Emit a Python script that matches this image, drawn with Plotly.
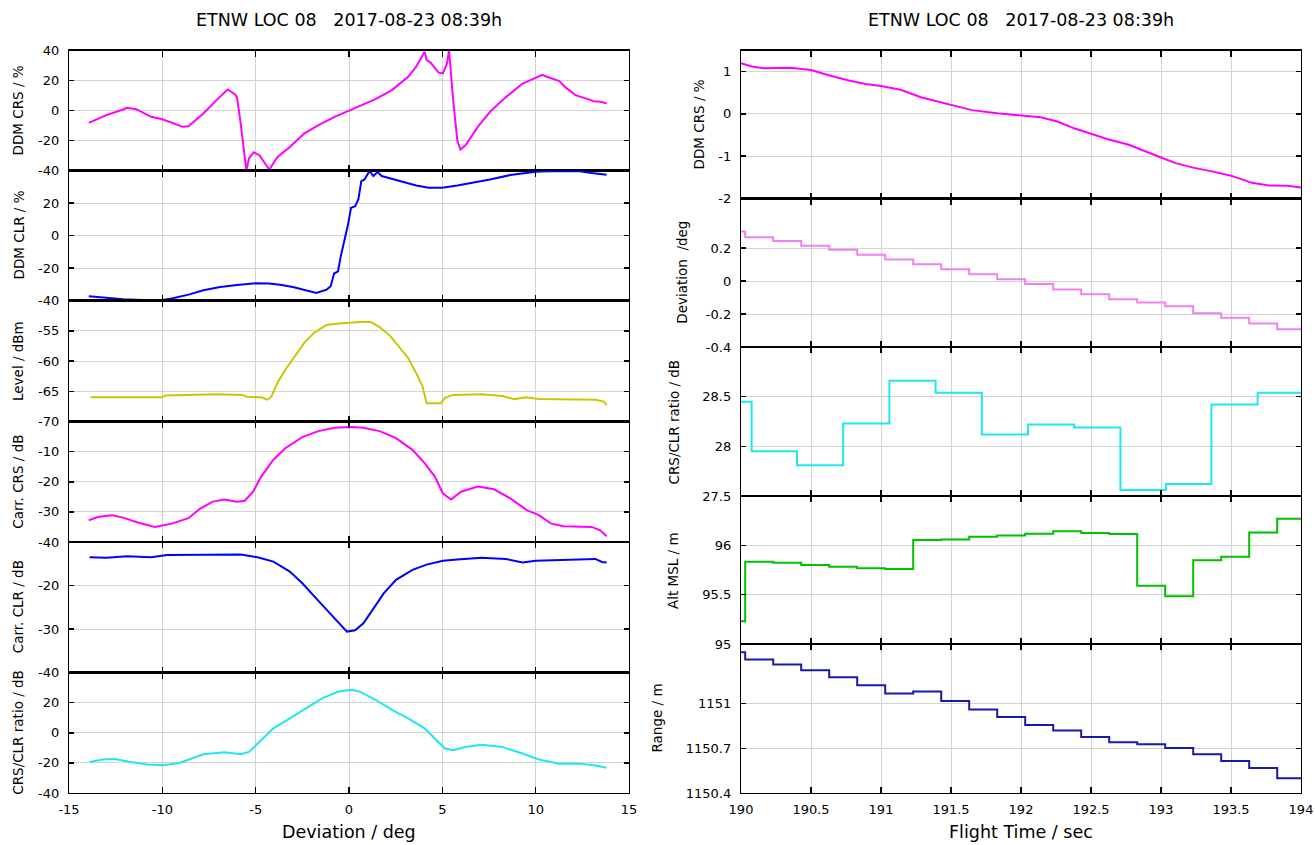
import plotly.graph_objects as go

W, H = 1315, 845

# ----------------------------- data -----------------------------
title_text = "ETNW LOC 08\u00a0\u00a0\u00a02017-08-23 08:39h"

# Left column: x = Deviation / deg
dev_ddm_crs = [-13.94, -13.0, -12.1, -11.9, -11.4, -10.6, -10.0, -9.5, -8.9, -8.6, -7.8, -7.1,
               -6.5, -6.1, -6.0, -5.8, -5.5, -5.36, -5.1, -4.8, -4.27, -3.83, -3.17, -2.4,
               -1.64, -0.77, 0.0, 0.55, 1.42, 2.3, 3.17, 3.6, 4.05, 4.16, 4.38, 4.8, 5.03,
               5.25, 5.36, 5.58, 5.8, 5.97, 6.24, 6.9, 7.55, 8.42, 9.3, 9.96, 10.35, 10.6,
               11.27, 11.6, 12.14, 12.8, 13.1, 13.5, 13.8]
ddm_crs = [-8.2, -3.1, 0.7, 1.8, 0.9, -4.2, -5.8, -8.2, -10.9, -10.5, -2.0, 6.9,
           14.0, 10.7, 8.7, -8.7, -40.0, -32.0, -27.8, -29.8, -39.4, -31.0, -24.3, -15.4,
           -9.8, -4.2, 0.0, 2.9, 7.6, 13.6, 22.5, 29.2, 39.2, 33.6, 31.8, 25.2, 24.7,
           31.4, 40.0, 6.9, -19.8, -26.0, -23.2, -10.9, -0.9, 9.1, 18.0, 21.6, 23.8, 22.5,
           19.6, 15.4, 10.2, 7.6, 6.2, 5.8, 4.7]

dev_ddm_clr = [-13.94, -13.0, -12.1, -11.05, -10.0, -9.5, -8.6, -7.8, -6.9, -6.0, -5.0, -4.27,
               -3.6, -2.95, -2.3, -1.75, -1.2, -0.98, -0.8, -0.59, -0.44, -0.22, -0.07, 0.11,
               0.33, 0.5, 0.66, 0.83, 1.1, 1.3, 1.53, 1.75, 2.3, 2.95, 3.6, 4.27, 5.0, 5.8,
               6.67, 7.55, 8.64, 10.0, 11.05, 12.36, 13.0, 13.8]
ddm_clr = [-37.4, -38.4, -39.3, -39.7, -39.7, -38.8, -36.4, -33.7, -31.7, -30.4, -29.4, -29.6,
           -30.4, -31.9, -33.7, -35.4, -33.3, -31.2, -23.4, -22.0, -12.7, -2.5, 5.8, 17.1,
           18.1, 22.2, 33.5, 34.5, 39.7, 36.6, 39.0, 36.6, 34.9, 33.1, 30.8, 29.4, 29.4, 30.8,
           32.5, 34.5, 37.2, 39.3, 39.7, 39.5, 38.4, 37.4]

dev_level = [-13.85, -12.0, -10.0, -9.85, -7.0, -5.7, -5.47, -4.7, -4.38, -4.16, -3.83, -3.4,
             -2.95, -2.4, -1.86, -1.2, -0.55, 0.11, 0.77, 1.2, 1.64, 2.19, 2.74, 3.17, 3.6,
             3.94, 4.16, 4.92, 5.14, 5.58, 7.1, 8.2, 8.86, 9.5, 10.17, 13.2, 13.65, 13.8]
level = [-66.0, -66.0, -66.0, -65.7, -65.5, -65.6, -65.9, -66.0, -66.4, -65.9, -63.6, -61.4,
         -59.5, -57.0, -55.3, -54.05, -53.8, -53.6, -53.5, -53.6, -54.4, -55.8, -57.8, -59.5, -62.0,
         -64.2, -67.0, -67.0, -66.1, -65.6, -65.5, -65.8, -66.3, -66.0, -66.3, -66.4, -66.7, -67.3]

dev_carr_crs = [-13.94, -13.46, -12.7, -12.1, -11.27, -10.4, -9.5, -8.6, -7.97, -7.3, -6.67, -6.0,
                -5.58, -5.14, -4.7, -4.05, -3.4, -2.5, -1.64, -0.77, 0.11, 0.77, 1.64, 2.52, 3.4,
                4.05, 4.6, 5.03, 5.47, 6.0, 6.9, 7.77, 8.64, 9.52, 10.17, 10.83, 11.5, 12.36,
                13.0, 13.46, 13.8]
carr_crs = [-32.8, -31.7, -31.1, -31.9, -33.6, -35.0, -33.9, -32.1, -28.9, -26.6, -25.9, -26.6,
            -26.3, -23.3, -18.3, -12.7, -8.8, -5.2, -3.2, -2.1, -1.8, -2.1, -3.2, -5.5, -9.4,
            -13.8, -18.3, -23.9, -25.9, -23.3, -21.6, -22.5, -25.5, -29.4, -31.1, -33.9, -34.8, -34.8,
            -35.0, -36.1, -38.1]

dev_carr_clr = [-13.9, -13.0, -11.9, -10.6, -9.74, -8.4, -7.0, -5.8, -4.9, -4.05, -3.17, -2.5,
                -1.86, -1.2, -0.55, -0.11, 0.33, 0.77, 1.2, 1.86, 2.52, 3.4, 4.16, 5.03, 5.8, 7.1,
                8.4, 9.3, 10.0, 11.9, 13.2, 13.55, 13.8]
carr_clr = [-13.5, -13.6, -13.3, -13.5, -13.0, -13.0, -12.9, -12.9, -13.5, -14.5, -16.8, -19.5,
            -22.5, -25.6, -28.7, -30.6, -30.3, -28.7, -26.0, -21.8, -18.7, -16.4, -15.2, -14.3, -14.0, -13.6,
            -13.9, -14.7, -14.3, -14.1, -13.9, -14.6, -14.7]

dev_ratio = [-13.9, -13.2, -12.55, -11.7, -10.8, -9.96, -9.1, -8.4, -7.8, -6.67, -5.8, -5.36, -4.7,
             -4.05, -3.17, -2.3, -1.42, -0.55, 0.11, 0.55, 1.42, 2.3, 3.17, 4.05, 4.7, 5.14, 5.58,
             6.24, 7.1, 8.2, 9.3, 10.17, 11.27, 12.36, 13.2, 13.8]
ratio = [-19.4, -17.8, -17.4, -19.4, -21.0, -21.6, -20.1, -17.2, -14.3, -12.9, -14.3, -12.7, -4.9,
         2.9, 9.6, 16.3, 23.0, 27.4, 28.5, 27.4, 21.9, 15.2, 9.6, 2.9, -4.9, -10.5, -11.6,
         -9.4, -8.0, -9.4, -13.8, -17.8, -20.5, -20.5, -21.8, -23.2]

# Right column: x = Flight Time / sec
t_ddm = [190.0, 190.076, 190.17, 190.35, 190.5, 190.62, 190.77, 190.89, 191.0, 191.14, 191.29,
         191.5, 191.65, 191.83, 192.0, 192.14, 192.26, 192.38, 192.5, 192.62, 192.77, 192.9,
         193.0, 193.11, 193.23, 193.38, 193.5, 193.65, 193.77, 193.9, 194.0]
ddm_crs_t = [1.2, 1.12, 1.08, 1.09, 1.04, 0.92, 0.79, 0.71, 0.66, 0.57, 0.39,
             0.21, 0.09, 0.016, -0.03, -0.08, -0.18, -0.34, -0.47, -0.6, -0.73, -0.89,
             -1.03, -1.17, -1.27, -1.37, -1.46, -1.63, -1.69, -1.70, -1.74]

t_step = [190.0, 190.03, 190.23, 190.43, 190.63, 190.83, 191.03, 191.23, 191.43, 191.63, 191.83,
          192.03, 192.23, 192.43, 192.63, 192.83, 193.03, 193.23, 193.43, 193.63, 193.83, 194.0]
deviation_t = [0.30, 0.265, 0.243, 0.214, 0.19, 0.159, 0.131, 0.102, 0.071, 0.041, 0.010,
               -0.018, -0.051, -0.080, -0.110, -0.131, -0.153, -0.196, -0.222, -0.257, -0.292, -0.292]
alt_msl = [95.23, 95.834, 95.824, 95.80, 95.784, 95.767, 95.76, 96.054, 96.06, 96.088, 96.10,
           96.118, 96.142, 96.125, 96.115, 95.59, 95.483, 95.848, 95.885, 96.13, 96.27, 96.27]
range_m = [1151.345, 1151.296, 1151.262, 1151.224, 1151.177, 1151.123, 1151.067, 1151.081,
           1151.018, 1150.96, 1150.91, 1150.857, 1150.819, 1150.776, 1150.74, 1150.727, 1150.702,
           1150.66, 1150.615, 1150.568, 1150.499, 1150.499]

t_ratio = [190.0, 190.076, 190.40, 190.73, 191.06, 191.39, 191.72, 192.05, 192.38, 192.71,
           193.035, 193.36, 193.69, 194.0]
ratio_t = [28.45, 27.95, 27.81, 28.23, 28.66, 28.54, 28.12, 28.22, 28.19, 27.56, 27.62, 28.42,
           28.54, 28.54]

# tick labels
dev_ticks = [-15, -10, -5, 0, 5, 10, 15]
dev_ticktext = ["-15", "-10", "-5", "0", "5", "10", "15"]
time_ticks = [190, 190.5, 191, 191.5, 192, 192.5, 193, 193.5, 194]
time_ticktext = ["190", "190.5", "191", "191.5", "192", "192.5", "193", "193.5", "194"]

# ----------------------------- style -----------------------------
FONT = "DejaVu Sans"
GRID = "#d4d4d4"
MAGENTA = "#ff00ff"
BLUE = "#0000ff"
OLIVE = "#c8c800"
CYAN = "#1ee8ee"
VIOLET = "#f080f0"
GREEN = "#00c000"
NAVY = "#1a1aa6"
TICK_SIZE = 13
YTITLE_SIZE = 13.5


def px_x(p):
    return p / W


def px_y(p):
    return 1 - p / H


LX = [69, 629]
RX = [741, 1301]

# (series x, series y, color, shape, y-range, y-ticks, y-ticktext, top px, bottom px, y-title, title x px)
left_panels = [
    (dev_ddm_crs, ddm_crs, MAGENTA, "linear", [-40, 40], [-40, -20, 0, 20, 40],
     ["-40", "-20", "0", "20", "40"], 50.5, 170.5, "DDM CRS / %"),
    (dev_ddm_clr, ddm_clr, BLUE, "linear", [-40, 40], [-40, -20, 0, 20],
     ["-40", "-20", "0", "20"], 170.5, 300.5, "DDM CLR / %"),
    (dev_level, level, OLIVE, "linear", [-70, -50], [-70, -65, -60, -55],
     ["-70", "-65", "-60", "-55"], 300.5, 421.5, "Level / dBm"),
    (dev_carr_crs, carr_crs, MAGENTA, "linear", [-40, 0], [-40, -30, -20, -10],
     ["-40", "-30", "-20", "-10"], 421.5, 542, "Carr. CRS / dB"),
    (dev_carr_clr, carr_clr, BLUE, "linear", [-40, -10], [-40, -30, -20],
     ["-40", "-30", "-20"], 542, 672.5, "Carr. CLR / dB"),
    (dev_ratio, ratio, CYAN, "linear", [-40, 40], [-40, -20, 0, 20],
     ["-40", "-20", "0", "20"], 672.5, 793, "CRS/CLR ratio / dB"),
]

right_panels = [
    (t_ddm, ddm_crs_t, MAGENTA, "linear", [-2, 1.5], [-2, -1, 0, 1],
     ["-2", "-1", "0", "1"], 50.5, 198.5, "DDM CRS / %", 698),
    (t_step, deviation_t, VIOLET, "hv", [-0.4, 0.5], [-0.4, -0.2, 0, 0.2],
     ["-0.4", "-0.2", "0", "0.2"], 198.5, 347, "Deviation\u00a0\u00a0/deg", 682),
    (t_ratio, ratio_t, CYAN, "hv", [27.5, 29.0], [27.5, 28, 28.5],
     ["27.5", "28", "28.5"], 347, 496, "CRS/CLR ratio / dB", 673),
    (t_step, alt_msl, GREEN, "hv", [95, 96.5], [95, 95.5, 96],
     ["95", "95.5", "96"], 496, 644, "Alt MSL / m", 673),
    (t_step, range_m, NAVY, "hv", [1150.4, 1151.4], [1150.4, 1150.7, 1151],
     ["1150.4", "1150.7", "1151"], 644, 793, "Range / m", 656),
]

fig = go.Figure()
layout = dict(
    width=W, height=H,
    margin=dict(l=0, r=0, t=0, b=0, pad=0, autoexpand=False),
    paper_bgcolor="white", plot_bgcolor="white",
    showlegend=False,
    font=dict(family=FONT, size=12, color="black"),
)
annotations = []


def axis_common():
    return dict(
        showgrid=True, gridcolor=GRID, gridwidth=1, zeroline=False,
        showline=True, linecolor="black", linewidth=1.2, mirror="allticks",
        ticks="inside", tickcolor="black", tickwidth=1.5,
        tickfont=dict(family=FONT, size=TICK_SIZE, color="black"),
        automargin=False, fixedrange=True,
    )


idx = 0
for col, panels, xd, xr, xticks, xtext in [
    ("L", left_panels, LX, [-15, 15], dev_ticks, dev_ticktext),
    ("R", right_panels, RX, [190, 194], time_ticks, time_ticktext),
]:
    n = len(panels)
    for i, p in enumerate(panels):
        idx += 1
        xs, ys, color, shape, yr, yt, ytt, top, bot, ytitle = p[:10]
        xname = "xaxis" if idx == 1 else f"xaxis{idx}"
        yname = "yaxis" if idx == 1 else f"yaxis{idx}"
        xa = axis_common()
        xa.update(domain=[px_x(xd[0]), px_x(xd[1])], range=xr, tickvals=xticks,
                  ticktext=xtext, ticklen=6, anchor=f"y{idx}" if idx > 1 else "y",
                  showticklabels=(i == n - 1), ticklabelstandoff=4)
        ya = axis_common()
        ya.update(domain=[px_y(bot), px_y(top)], range=yr, tickvals=yt, ticktext=ytt,
                  ticklen=5, anchor=f"x{idx}" if idx > 1 else "x", ticklabelstandoff=6)
        layout[xname] = xa
        layout[yname] = ya
        fig.add_trace(go.Scatter(
            x=xs, y=ys, mode="lines",
            line=dict(color=color, width=2, shape=shape),
            xaxis=f"x{idx}" if idx > 1 else "x",
            yaxis=f"y{idx}" if idx > 1 else "y",
            hoverinfo="skip",
        ))
        tx = 18 if col == "L" else p[10]
        annotations.append(dict(
            x=px_x(tx), y=px_y((top + bot) / 2), xref="paper", yref="paper",
            text=ytitle, textangle=-90, showarrow=False,
            xanchor="center", yanchor="middle",
            font=dict(family=FONT, size=YTITLE_SIZE, color="black"),
        ))

for cx in [349, 1021]:
    annotations.append(dict(
        x=px_x(cx), y=px_y(20), xref="paper", yref="paper", text=title_text,
        showarrow=False, xanchor="center", yanchor="middle",
        font=dict(family=FONT, size=17.5, color="black"),
    ))
annotations.append(dict(
    x=px_x(349), y=px_y(832), xref="paper", yref="paper", text="Deviation / deg",
    showarrow=False, xanchor="center", yanchor="middle",
    font=dict(family=FONT, size=17.5, color="black"),
))
annotations.append(dict(
    x=px_x(1021), y=px_y(832), xref="paper", yref="paper", text="Flight Time / sec",
    showarrow=False, xanchor="center", yanchor="middle",
    font=dict(family=FONT, size=17.5, color="black"),
))

layout["annotations"] = annotations
fig.update_layout(**layout)
fig.write_html(
    "out.html",
    config={"displayModeBar": False, "staticPlot": True},
    post_script="document.body.style.margin='0px';document.body.style.padding='0px';"
                "document.body.style.overflow='hidden';",
)
